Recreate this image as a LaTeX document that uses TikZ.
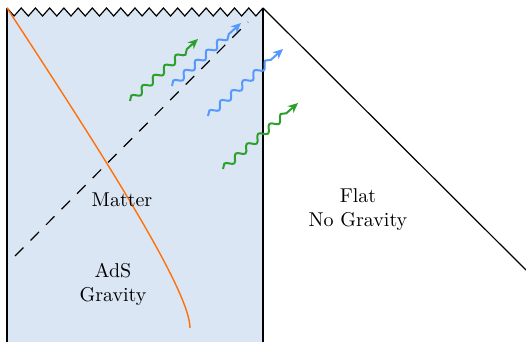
\documentclass[tikz,border=0pt]{standalone}
\usepackage{tikz}
\usetikzlibrary{arrows.meta,decorations.pathmorphing,positioning}
\definecolor{ads_blue}{RGB}{218,230,243}
\definecolor{wave_green}{RGB}{44,160,44}
\definecolor{wave_blue}{RGB}{85,153,255}
\definecolor{path_orange}{RGB}{255,112,10}
\tikzset{
edge_line/.style={draw, line width=0.6pt},
horizon_line/.style={draw, line width=0.6pt, dash pattern=on 6pt off 5pt},
region_label/.style={align=center, text=black, font=\normalsize},
wave_arrow/.style={decorate, decoration={snake, amplitude=1.6pt, segment length=7.5pt, post length=5pt}, line width=1pt, -{Stealth[length=5pt,width=4.5pt]}},
world_line/.style={draw=path_orange, line width=0.7pt}
}

\begin{document}
\begin{tikzpicture}[x=0.5pt, y=-0.5pt]
    \useasboundingbox (0,0) rectangle (526,342);
    % corners of the two regions
    \coordinate (ads_tl) at (7,8);
    \coordinate (ads_tr) at (263,8);
    \coordinate (ads_bl) at (7,342);
    \coordinate (ads_br) at (263,342);
    \coordinate (flat_end) at (526,270);
    % AdS region with the singular top edge
    \fill[ads_blue] (ads_tl) \foreach \i in {0,...,17} {-- ({7+14.222*\i+7.111},16) -- ({7+14.222*(\i+1)},8)} -- (ads_br) -- (ads_bl) -- cycle;
    \draw[line width=0.6pt] (ads_tl) \foreach \i in {0,...,17} {-- ({7+14.222*\i+7.111},16) -- ({7+14.222*(\i+1)},8)};
    \draw[edge_line] (ads_tl) -- (ads_bl);
    \draw[edge_line] (ads_tr) -- (ads_br);
    \draw[edge_line] (ads_tr) -- (flat_end);
    % horizon
    \coordinate (hor_start) at (15,256);
    \coordinate (hor_end) at (248,22);
    \draw[horizon_line] (hor_start) -- (hor_end);
    % infalling matter
    \coordinate (orange_end) at (190,328);
    \draw[world_line] (ads_tl) .. controls (100,150) and (190,290) .. (orange_end);
    % radiation
    \coordinate (g1_a) at (130,101);
    \coordinate (g1_b) at (198,39);
    \coordinate (b1_a) at (172,86);
    \coordinate (b1_b) at (241,23);
    \coordinate (b2_a) at (208,116);
    \coordinate (b2_b) at (283,49);
    \coordinate (g2_a) at (223,169);
    \coordinate (g2_b) at (298,103);
    \draw[wave_arrow, wave_green] (g1_a) -- (g1_b);
    \draw[wave_arrow, wave_blue] (b1_a) -- (b1_b);
    \draw[wave_arrow, wave_blue] (b2_a) -- (b2_b);
    \draw[wave_arrow, wave_green] (g2_a) -- (g2_b);
    % labels
    \node[region_label] (matter) at (122,200) {Matter};
    \node[region_label] (ads) at (113,284) {AdS\\Gravity};
    \node[region_label] (flat) at (358,210) {Flat\\No Gravity};
\end{tikzpicture}
\end{document}
